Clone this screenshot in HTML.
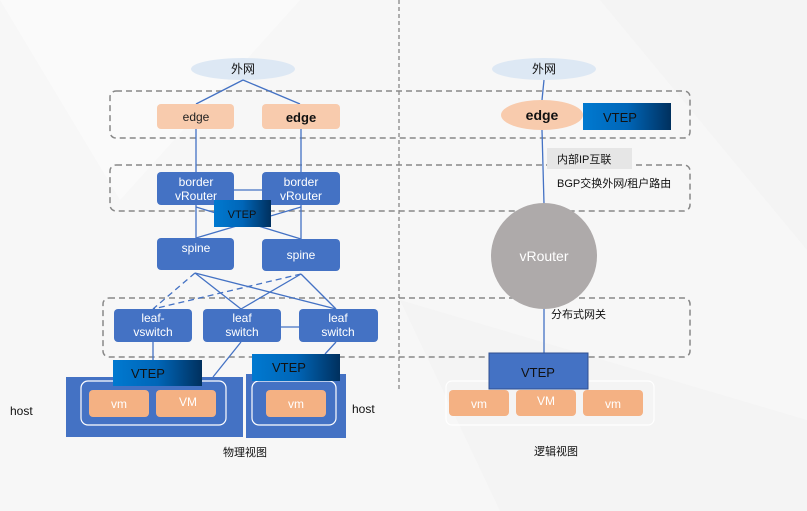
<!DOCTYPE html>
<html><head><meta charset="utf-8"><style>
html,body{margin:0;padding:0;background:#f7f7f7;}
svg{display:block;font-family:"Liberation Sans","Noto Sans CJK SC",sans-serif;}
</style></head><body>
<svg width="807" height="511" viewBox="0 0 807 511" xmlns="http://www.w3.org/2000/svg">
<defs>
<linearGradient id="g" x1="0" x2="1" y1="0" y2="0"><stop offset="0" stop-color="#0079d0"/><stop offset="0.5" stop-color="#0066b8"/><stop offset="1" stop-color="#00305e"/></linearGradient>
</defs>
<rect width="807" height="511" fill="#f7f7f7"/>
<polygon points="0,0 300,0 120,200" fill="#fafafa"/>
<polygon points="600,0 807,0 807,250" fill="#f4f4f4"/>
<polygon points="400,300 807,420 807,511 500,511" fill="#f4f4f4"/>
<line x1="399" y1="0" x2="399" y2="392" stroke="#666" stroke-width="1" stroke-dasharray="4,3"/>
<g fill="none" stroke="#888" stroke-width="1.5" stroke-dasharray="6,4">
<rect x="110" y="91" width="580" height="47" rx="6"/>
<rect x="110" y="165" width="580" height="46" rx="6"/>
<rect x="103" y="298" width="587" height="59" rx="6"/>
</g>
<ellipse cx="243" cy="69" rx="52" ry="11" fill="#dde8f4"/>
<ellipse cx="544" cy="69" rx="52" ry="11" fill="#dde8f4"/>
<g stroke="#4472c4" stroke-width="1.3" fill="none">
<line x1="243" y1="80" x2="196" y2="104"/><line x1="243" y1="80" x2="300" y2="104"/>
<line x1="196" y1="129" x2="196" y2="172"/><line x1="301" y1="129" x2="301" y2="172"/>
<line x1="234" y1="190" x2="262" y2="190"/>
<line x1="196" y1="205" x2="196" y2="238"/><line x1="301" y1="205" x2="301" y2="239"/>
<line x1="196" y1="207" x2="301" y2="239"/><line x1="301" y1="207" x2="196" y2="238"/>
<line x1="195" y1="273" x2="241" y2="309"/><line x1="195" y1="273" x2="336" y2="309"/>
<line x1="301" y1="274" x2="241" y2="309"/><line x1="301" y1="274" x2="336" y2="309"/>
<line x1="195" y1="273" x2="153" y2="309" stroke-dasharray="6,4"/>
<line x1="301" y1="274" x2="153" y2="309" stroke-dasharray="6,4"/>
<line x1="281" y1="327" x2="299" y2="327"/>
<line x1="153" y1="342" x2="153" y2="360"/>
<line x1="241" y1="342" x2="213" y2="377"/>
<line x1="336" y1="342" x2="325" y2="354"/>
<line x1="544" y1="80" x2="542" y2="100"/>
<line x1="542" y1="130" x2="544" y2="204"/>
<line x1="544" y1="308" x2="544" y2="353"/>
</g>
<g font-size="12" fill="#fff" text-anchor="middle">
<rect x="157" y="104" width="77" height="25" rx="4" fill="#f8cbad"/>
<text x="196" y="121" fill="#222">edge</text>
<rect x="262" y="104" width="78" height="25" rx="4" fill="#f8cbad"/>
<text x="301" y="122" fill="#111" font-weight="bold" font-size="13">edge</text>
<rect x="157" y="172" width="77" height="33" rx="4" fill="#4472c4"/>
<text x="196" y="186">border</text><text x="196" y="200">vRouter</text>
<rect x="262" y="172" width="78" height="33" rx="4" fill="#4472c4"/>
<text x="301" y="186">border</text><text x="301" y="200">vRouter</text>
<rect x="214" y="200" width="57" height="27" fill="url(#g)"/>
<text x="242" y="218" fill="#111" font-size="11">VTEP</text>
<rect x="157" y="238" width="77" height="32" rx="4" fill="#4472c4"/>
<text x="196" y="252">spine</text>
<rect x="262" y="239" width="78" height="32" rx="4" fill="#4472c4"/>
<text x="301" y="259">spine</text>
<rect x="114" y="309" width="78" height="33" rx="4" fill="#4472c4"/>
<text x="153" y="322">leaf-</text><text x="153" y="336">vswitch</text>
<rect x="203" y="309" width="78" height="33" rx="4" fill="#4472c4"/>
<text x="242" y="322">leaf</text><text x="242" y="336">switch</text>
<rect x="299" y="309" width="79" height="33" rx="4" fill="#4472c4"/>
<text x="338" y="322">leaf</text><text x="338" y="336">switch</text>
<rect x="66" y="377" width="177" height="60" fill="#4472c4"/>
<rect x="81" y="381" width="145" height="44" rx="7" fill="none" stroke="#fff" stroke-width="1.2"/>
<rect x="246" y="374" width="100" height="64" fill="#4472c4"/>
<rect x="252" y="381" width="84" height="44" rx="7" fill="none" stroke="#fff" stroke-width="1.2"/>
<rect x="113" y="360" width="89" height="26" fill="url(#g)"/>
<text x="148" y="378" fill="#111" font-size="13">VTEP</text>
<rect x="252" y="354" width="88" height="27" fill="url(#g)"/>
<text x="289" y="372" fill="#111" font-size="13">VTEP</text>
<rect x="89" y="390" width="60" height="27" rx="4" fill="#f4b183"/><text x="119" y="408">vm</text>
<rect x="156" y="390" width="60" height="27" rx="4" fill="#f4b183"/><text x="188" y="406">VM</text>
<rect x="266" y="390" width="60" height="27" rx="4" fill="#f4b183"/><text x="296" y="408">vm</text>
<ellipse cx="542" cy="115" rx="41" ry="15" fill="#f8cbad"/>
<text x="542" y="120" fill="#111" font-weight="bold" font-size="14">edge</text>
<rect x="583" y="103" width="88" height="27" fill="url(#g)"/>
<text x="620" y="122" fill="#111" font-size="13">VTEP</text>
<circle cx="544" cy="256" r="53" fill="#aeaaaa"/>
<text x="544" y="261" font-size="14">vRouter</text>
<rect x="446" y="381" width="208" height="44" rx="6" fill="none" stroke="#fff" stroke-width="1.2"/>
<rect x="489" y="353" width="99" height="36" fill="#4472c4" stroke="#2f4f8f"/>
<text x="538" y="377" fill="#111" font-size="13">VTEP</text>
<rect x="449" y="390" width="60" height="26" rx="4" fill="#f4b183"/><text x="479" y="408">vm</text>
<rect x="516" y="390" width="60" height="26" rx="4" fill="#f4b183"/><text x="546" y="405">VM</text>
<rect x="583" y="390" width="60" height="26" rx="4" fill="#f4b183"/><text x="613" y="408">vm</text>
</g>
<g font-size="12" fill="#111">
<text x="243" y="73" text-anchor="middle">外网</text>
<text x="544" y="73" text-anchor="middle">外网</text>
<rect x="547" y="148" width="85" height="21" fill="#e6e6e6"/>
<text x="557" y="163" font-size="11">内部IP互联</text>
<text x="557" y="187" font-size="11">BGP交换外网/租户路由</text>
<text x="551" y="318" font-size="11">分布式网关</text>
<text x="10" y="415">host</text>
<text x="352" y="413">host</text>
<text x="245" y="456" text-anchor="middle" font-size="11">物理视图</text>
<text x="556" y="455" text-anchor="middle" font-size="11">逻辑视图</text>
</g>
</svg>
</body></html>
